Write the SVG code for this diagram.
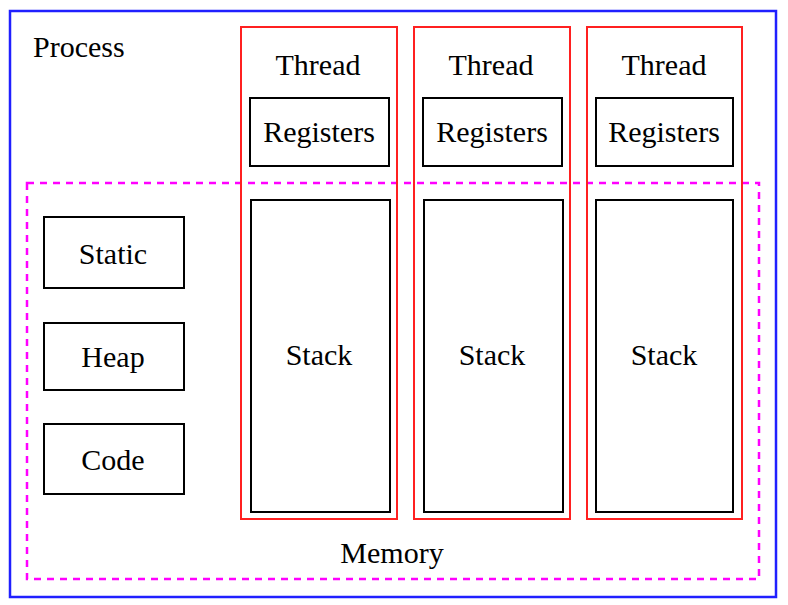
<svg xmlns="http://www.w3.org/2000/svg" width="788" height="605" viewBox="0 0 788 605">
<style>
.t{font-family:"Liberation Serif","Times New Roman",serif;font-size:30px;fill:#000;text-anchor:middle}
.box{fill:none;stroke:#000;stroke-width:2}
.thread{fill:none;stroke:#ff2020;stroke-width:2}
</style>
<rect width="788" height="605" fill="#fff"/>
<g id="process">
<rect x="10" y="11" width="766" height="586" fill="none" stroke="#2020ff" stroke-width="2.5"/>
<text class="t" x="33" y="57" style="text-anchor:start">Process</text>
</g>
<g id="memory">
<rect x="27" y="183" width="732" height="396" fill="none" stroke="#ff00ff" stroke-width="2.5" stroke-dasharray="7,6"/>
<text class="t" x="392" y="563">Memory</text>
</g>
<g id="static"><rect class="box" x="44" y="217" width="140" height="71"/><text class="t" x="113" y="264">Static</text></g>
<g id="heap"><rect class="box" x="44" y="323" width="140" height="67"/><text class="t" x="113" y="367">Heap</text></g>
<g id="code"><rect class="box" x="44" y="424" width="140" height="70"/><text class="t" x="113" y="470">Code</text></g>
<g id="thread1">
<rect class="thread" x="241" y="27" width="156" height="492"/>
<text class="t" x="318" y="75">Thread</text>
<rect class="box" x="250" y="98" width="139" height="68"/>
<text class="t" x="319" y="142">Registers</text>
<rect class="box" x="251" y="200" width="139" height="312"/>
<text class="t" x="319" y="365">Stack</text>
</g>
<g id="thread2">
<rect class="thread" x="414" y="27" width="156" height="492"/>
<text class="t" x="491" y="75">Thread</text>
<rect class="box" x="423" y="98" width="139" height="68"/>
<text class="t" x="492" y="142">Registers</text>
<rect class="box" x="424" y="200" width="139" height="312"/>
<text class="t" x="492" y="365">Stack</text>
</g>
<g id="thread3">
<rect class="thread" x="587" y="27" width="155" height="492"/>
<text class="t" x="664" y="75">Thread</text>
<rect class="box" x="596" y="98" width="137" height="68"/>
<text class="t" x="664" y="142">Registers</text>
<rect class="box" x="596" y="200" width="137" height="312"/>
<text class="t" x="664" y="365">Stack</text>
</g>
<g id="connectors"></g>
</svg>
